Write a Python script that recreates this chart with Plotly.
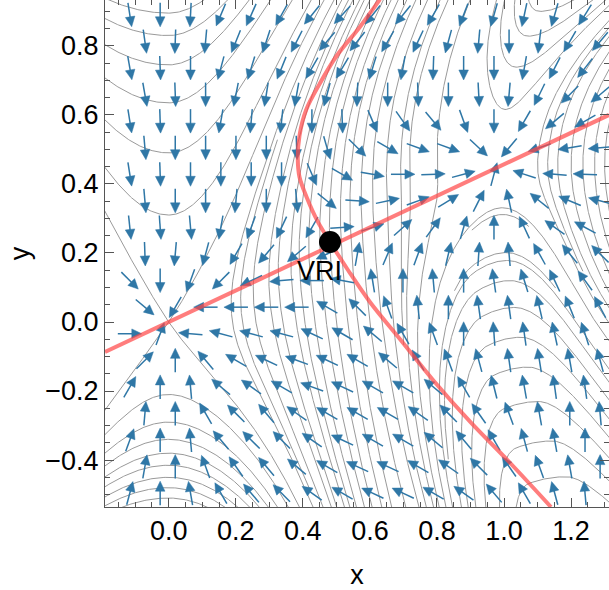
import numpy as np
import plotly.graph_objects as go

# ---------------- axes ----------------
X_RANGE = [-0.19, 1.313]
Y_RANGE = [-0.536, 0.933]

# ---------------- arrow field (angles in degrees) ----------------
ROW_Y0, ROW_DY = 0.89, 0.077
COL_X0_EVEN, COL_X0_ODD, COL_DX = -0.116, -0.071, 0.0905
ARROW_ANGLES = [
    [-81, -90, -93, -113, -114, -119, -129, -132, -129, -129, -120, -111, -106, -102, -106, -122],
    [-82, -92, -95, -112, -108, -117, -130, -128, -120, -115, -105, -95, -90, -97, -120, -130],
    [-80, -88, -90, -105, -107, -112, -120, -121, -107, -100, -92, -90, -90, -100, -117, -128],
    [-80, -88, -90, -101, -99, -100, -105, -92, -90, -88, -90, -87, -95, -116, -135, -140],
    [-81, -88, -90, -100, -95, -96, -90, -88, -67, -55, -50, -70, -90, -120, -140, -150],
    [-85, -90, -90, -90, -90, -88, -74, -45, -30, -20, -20, -43, -130, -161, -171, -175],
    [-81, -88, -90, -90, -90, -90, -67, -30, -10, 0, 2, 15, 75, 162, 176, 178],
    [-85, -90, -90, -95, -90, -85, -39, -4, 12, 20, 32, 63, 102, 141, 157, 165],
    [-84, -86, -85, -100, -110, -115, -120, 4, 18, 42, 54, 74, 90, 115, 145, 152],
    [-88, -95, -105, -120, -130, -140, -155, 80, 67, 70, 77, 86, 95, 119, 129, 135],
    [-45, -90, -110, -135, -155, -175, 180, 170, 99, 90, 95, 90, 98, 107, 115, 126],
    [-40, -120, 180, 180, 180, 180, 150, 135, 110, 96, 90, 98, 98, 103, 112, 118],
    [0, 70, 175, 165, 165, 165, 155, 150, 140, 120, 110, 90, 94, 98, 102, 108],
    [45, 90, 130, 150, 155, 160, 155, 150, 140, 120, 110, 105, 98, 99, 100, 105],
    [60, 90, 95, 140, 145, 150, 160, 155, 150, 150, 140, 120, 104, 100, 98, 98],
    [85, 90, 120, 135, 130, 145, 150, 150, 150, 145, 135, 125, 110, 100, 90, 95],
    [70, 90, 95, 130, 135, 135, 145, 155, 150, 150, 140, 130, 120, 105, 100, 90],
    [80, 90, 110, 125, 130, 140, 150, 155, 155, 150, 145, 135, 125, 110, 100, 90],
    [75, 90, 100, 120, 130, 135, 145, 150, 155, 155, 150, 145, 130, 120, 105, 95],
]

# ---------------- red curves ----------------
LINE_X = [-0.19, 1.313]
LINE_Y = [-0.087, 0.60]
SEP_X = [0.63, 0.57, 0.50, 0.45, 0.41, 0.39, 0.385, 0.39, 0.412, 0.445, 0.481, 0.535, 0.60, 0.69, 0.79, 0.90, 1.01, 1.14]
SEP_Y = [0.935, 0.855, 0.77, 0.69, 0.615, 0.54, 0.47, 0.42, 0.36, 0.29, 0.232, 0.15, 0.058, -0.05, -0.17, -0.29, -0.40, -0.536]
VRI_X, VRI_Y = 0.481, 0.232
VRI_LABEL = "VRI"
VRI_LABEL_XY = (0.451, 0.148)

# ---------------- gray streamline family ----------------
ORIGIN_SADDLE = (0.0, 0.0)
NODE = (0.99, 0.455)
GRAY_SEEDS = (
    [(x, 0.0) for x in [0.19, 0.22, 0.26, 0.31, 0.34, 0.38, 0.406, 0.436, 0.47, 0.50,
                         0.534, 0.564, 0.60, 0.636, 0.67, 0.71, 0.743, 0.785, 0.83]]
    + [(0.0, y) for y in [0.31, 0.49, 0.635, 0.745, 0.83, 0.895]]
    + [(0.0, y) for y in [-0.21, -0.29, -0.34, -0.38, -0.415, -0.45, -0.48, -0.51]]
    + [(1.02, 0.62), (1.05, 0.74), (1.09, 0.83), (1.11, 0.9)]
    + [(0.98, 0.31), (0.99, 0.2), (1.02, 0.12), (1.05, 0.04), (1.08, -0.05),
       (1.11, -0.14), (1.14, -0.24), (1.17, -0.35), (1.2, -0.45)]
    + [(x, 0.455) for x in [1.10, 1.13, 1.16, 1.20, 1.235, 1.27, 1.30]]
    + [(x, 0.9) for x in [0.40, 0.445, 0.487, 0.54, 0.564, 0.606, 0.64, 0.68, 0.72,
                          0.757, 0.794, 0.833, 0.877]]
    + [(x, -0.5) for x in [0.53, 0.57, 0.61, 0.65, 0.695, 0.74, 0.78, 0.83, 0.88, 0.93]]
)


def sstep(t):
    t = np.clip(t, 0.0, 1.0)
    return 3 * t * t - 2 * t ** 3


def xc(y):
    d = y - NODE[1]
    return NODE[0] + d * d * (0.42 + 0.18 * np.tanh(d / 0.2))


def Hfun(x, y):
    xi = x / xc(y)
    phi = 3 * xi ** 2 - 2 * xi ** 3
    s1 = np.where(xi < 0, 0.0, np.where(xi < 1, phi, 1.0))
    w = y - NODE[1] * s1
    psi_up = -1.2 * (1 - sstep(xi / 0.85)) + 0.55 * sstep((xi - 0.75) / 0.25)
    psi_dn = (-1.5 * (1 - sstep(xi / 0.55)) + 2.4 * sstep((xi - 0.6) / 0.3)
              * (1 - 0.6 * sstep((xi - 1.0) / 0.25)))
    sig = 0.5 * (1 + np.tanh(w / 0.08))
    psi = psi_dn + (psi_up - psi_dn) * sig
    return phi + psi * w * w


PX_W, PX_H = 504, 507
sxp = PX_W / (X_RANGE[1] - X_RANGE[0])
syp = PX_H / (Y_RANGE[1] - Y_RANGE[0])

# tangent field of the level curves on a grid (pixel-space unit vectors)
GX0, GX1 = X_RANGE[0] - 0.03, X_RANGE[1] + 0.03
GY0, GY1 = Y_RANGE[0] - 0.03, Y_RANGE[1] + 0.03
NGX, NGY = 520, 520
gxs = np.linspace(GX0, GX1, NGX)
gys = np.linspace(GY0, GY1, NGY)
GXm, GYm = np.meshgrid(gxs, gys)
e = 1e-5
HXg = (Hfun(GXm + e, GYm) - Hfun(GXm - e, GYm)) / (2 * e)
HYg = (Hfun(GXm, GYm + e) - Hfun(GXm, GYm - e)) / (2 * e)
TXg = -HYg * sxp
TYg = HXg * syp
nrm = np.hypot(TXg, TYg) + 1e-12
TXg /= nrm
TYg /= nrm
DGX = (GX1 - GX0) / (NGX - 1)
DGY = (GY1 - GY0) / (NGY - 1)


def tdir(x, y):
    fx = (x - GX0) / DGX
    fy = (y - GY0) / DGY
    i = int(fx)
    j = int(fy)
    if i < 0 or j < 0 or i >= NGX - 1 or j >= NGY - 1:
        return None
    ax = fx - i
    ay = fy - j
    tx = (TXg[j, i] * (1 - ax) * (1 - ay) + TXg[j, i + 1] * ax * (1 - ay)
          + TXg[j + 1, i] * (1 - ax) * ay + TXg[j + 1, i + 1] * ax * ay)
    ty = (TYg[j, i] * (1 - ax) * (1 - ay) + TYg[j, i + 1] * ax * (1 - ay)
          + TYg[j + 1, i] * (1 - ax) * ay + TYg[j + 1, i + 1] * ax * ay)
    n = (tx * tx + ty * ty) ** 0.5
    if n < 0.3:
        return None
    return tx / n, ty / n


D_TEST = 4.0   # px
D_SEED = 5.0   # px
STEP = 1.2     # px
occ = {}


def to_px(x, y):
    return (x - X_RANGE[0]) * sxp, (y - Y_RANGE[0]) * syp


def near_other(px, py, lid, d):
    ci, cj = int(px // D_TEST), int(py // D_TEST)
    for a in (-1, 0, 1):
        for b in (-1, 0, 1):
            for (qx, qy, qid) in occ.get((ci + a, cj + b), ()):
                if qid != lid and (qx - px) ** 2 + (qy - py) ** 2 < d * d:
                    return True
    return False


def trace_one(x, y, sgn, lid, stop_pts):
    pts = []
    for _ in range(3000):
        d1 = tdir(x, y)
        if d1 is None:
            break
        xm = x + sgn * d1[0] * STEP / 2 / sxp
        ym = y + sgn * d1[1] * STEP / 2 / syp
        d2 = tdir(xm, ym)
        if d2 is None or d2[0] * d1[0] + d2[1] * d1[1] < 0.5:
            break
        x = x + sgn * d2[0] * STEP / sxp
        y = y + sgn * d2[1] * STEP / syp
        if not (X_RANGE[0] - 0.005 < x < X_RANGE[1] + 0.005 and Y_RANGE[0] - 0.005 < y < Y_RANGE[1] + 0.005):
            pts.append((x, y))
            break
        px, py = to_px(x, y)
        if near_other(px, py, lid, D_TEST):
            break
        if any((px - sx) ** 2 + (py - sy) ** 2 < 9.0 for (sx, sy) in stop_pts):
            break
        pts.append((x, y))
    return pts


def add_line(pts, lid):
    for (x, y) in pts:
        px, py = to_px(x, y)
        occ.setdefault((int(px // D_TEST), int(py // D_TEST)), []).append((px, py, lid))


lines = []
saddle_px = [to_px(*ORIGIN_SADDLE)]
# separatrices through the saddle at the origin
r = 0.012
ang = np.linspace(0, 2 * np.pi, 1441)
hv = Hfun(ORIGIN_SADDLE[0] + r * np.cos(ang), ORIGIN_SADDLE[1] + r * np.sin(ang)) - Hfun(
    np.array(ORIGIN_SADDLE[0]), np.array(ORIGIN_SADDLE[1]))
sep_seeds = [(ORIGIN_SADDLE[0] + r * np.cos(ang[k]), ORIGIN_SADDLE[1] + r * np.sin(ang[k]))
             for k in np.where(np.sign(hv[:-1]) != np.sign(hv[1:]))[0]]
lid = 0
for (sx0, sy0) in sep_seeds:
    lid += 1
    best = None
    for sg in (1, -1):
        p = trace_one(sx0, sy0, sg, lid, [])
        if best is None or len(p) > len(best):
            best = p
    line = [ORIGIN_SADDLE, (sx0, sy0)] + best
    add_line(line, lid)
    lines.append(line)

for (sx0, sy0) in GRAY_SEEDS:
    lid += 1
    px, py = to_px(sx0, sy0)
    if near_other(px, py, lid, D_SEED):
        continue
    fwd = trace_one(sx0, sy0, 1, lid, saddle_px)
    bwd = trace_one(sx0, sy0, -1, lid, saddle_px)
    line = bwd[::-1] + [(sx0, sy0)] + fwd
    if len(line) < 8:
        continue
    add_line(line, lid)
    lines.append(line)

gx, gy = [], []
for line in lines:
    gx += [p[0] for p in line] + [None]
    gy += [p[1] for p in line] + [None]

# ---------------- arrows ----------------
L_PX, HL_PX, HW_PX = 24.0, 10.0, 4.8
shx, shy, hdx, hdy = [], [], [], []
for rr, row in enumerate(ARROW_ANGLES):
    yc = ROW_Y0 - rr * ROW_DY
    x0 = COL_X0_EVEN if rr % 2 == 0 else COL_X0_ODD
    for c, a_deg in enumerate(row):
        xcn = x0 + c * COL_DX
        t = np.deg2rad(a_deg)
        ux, uy = np.cos(t), np.sin(t)
        tail = (xcn - ux * L_PX / 2 / sxp, yc - uy * L_PX / 2 / syp)
        tip = (xcn + ux * L_PX / 2 / sxp, yc + uy * L_PX / 2 / syp)
        base = (tip[0] - ux * HL_PX / sxp, tip[1] - uy * HL_PX / syp)
        shx += [tail[0], base[0] + ux * 1.0 / sxp, None]
        shy += [tail[1], base[1] + uy * 1.0 / syp, None]
        pxn, pyn = -uy, ux
        b1 = (base[0] + pxn * HW_PX / sxp, base[1] + pyn * HW_PX / syp)
        b2 = (base[0] - pxn * HW_PX / sxp, base[1] - pyn * HW_PX / syp)
        hdx += [tip[0], b1[0], b2[0], tip[0], None]
        hdy += [tip[1], b1[1], b2[1], tip[1], None]

ARROW_COLOR = "#2f77a6"
RED = "rgba(255,70,70,0.7)"
fig = go.Figure()
fig.add_trace(go.Scatter(x=gx, y=gy, mode="lines", line=dict(color="#9a9a9a", width=1),
                         hoverinfo="skip"))
fig.add_trace(go.Scatter(x=shx, y=shy, mode="lines", line=dict(color=ARROW_COLOR, width=1.5),
                         hoverinfo="skip"))
fig.add_trace(go.Scatter(x=hdx, y=hdy, mode="lines", fill="toself", fillcolor=ARROW_COLOR,
                         line=dict(color=ARROW_COLOR, width=0.5), hoverinfo="skip"))
fig.add_trace(go.Scatter(x=LINE_X, y=LINE_Y, mode="lines", line=dict(color=RED, width=4),
                         hoverinfo="skip"))
fig.add_trace(go.Scatter(x=SEP_X, y=SEP_Y, mode="lines", line_shape="spline",
                         line=dict(color=RED, width=4, smoothing=1.0), hoverinfo="skip"))
fig.add_trace(go.Scatter(x=[VRI_X], y=[VRI_Y], mode="markers",
                         marker=dict(color="black", size=22), hoverinfo="skip"))
fig.add_annotation(x=VRI_LABEL_XY[0], y=VRI_LABEL_XY[1], text=VRI_LABEL, showarrow=False,
                   font=dict(family="Liberation Sans, Arial", size=27, color="black"))

FONT = dict(family="Liberation Sans, Arial", size=27, color="black")
axis_common = dict(showgrid=False, zeroline=False, showline=True, linecolor="#555555",
                   linewidth=1, mirror="ticks", ticks="inside", ticklen=9, tickcolor="#555555",
                   tickwidth=1, tickfont=FONT, tickformat=".1f", dtick=0.2, tick0=0,
                   minor=dict(ticks="inside", ticklen=5, dtick=0.05, tick0=0, tickcolor="#555555"))
fig.update_xaxes(range=X_RANGE, title=dict(text="x", font=FONT, standoff=20), **axis_common)
fig.update_yaxes(range=Y_RANGE, title=dict(text="y", font=FONT, standoff=7), **axis_common)
fig.update_layout(width=609, height=590, margin=dict(l=105, r=0, t=0, b=83),
                  plot_bgcolor="white", paper_bgcolor="white", showlegend=False)
fig.write_html("out.html")
